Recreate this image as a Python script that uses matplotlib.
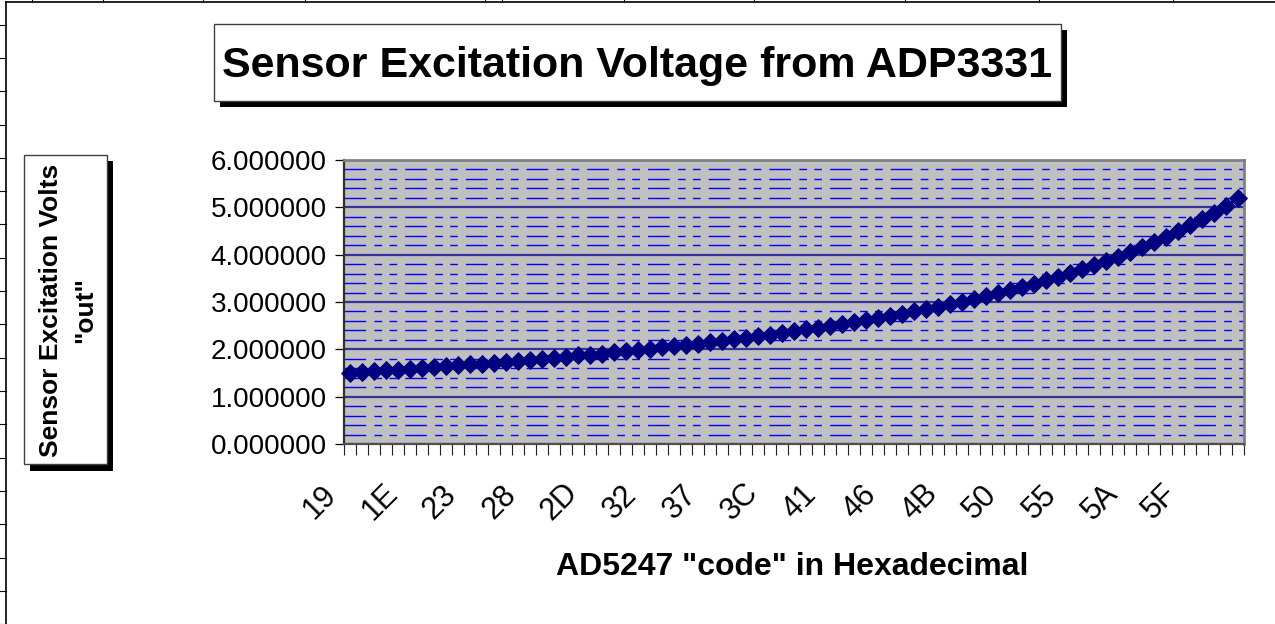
import matplotlib
matplotlib.use("Agg")
import matplotlib.pyplot as plt
from matplotlib.patches import Rectangle
from matplotlib.lines import Line2D
from matplotlib.ticker import MultipleLocator, FixedLocator, NullFormatter
import matplotlib.transforms as mtransforms
import numpy as np

plt.rcParams['font.family'] = ['Liberation Sans', 'DejaVu Sans']

# ---------------- data ----------------
codes = [f"{c:X}" for c in range(0x19, 0x64)]          # AD5247 codes 0x19 .. 0x63
volts = [1.51, 1.53, 1.54, 1.56, 1.57, 1.59, 1.61, 1.63, 1.64, 1.66,
         1.68, 1.70, 1.72, 1.74, 1.76, 1.78, 1.80, 1.82, 1.84, 1.87,
         1.89, 1.91, 1.94, 1.96, 1.99, 2.01, 2.04, 2.07, 2.10, 2.12,
         2.15, 2.18, 2.21, 2.25, 2.28, 2.31, 2.35, 2.38, 2.42, 2.46,
         2.50, 2.54, 2.58, 2.62, 2.66, 2.71, 2.75, 2.80, 2.85, 2.90,
         2.96, 3.01, 3.07, 3.13, 3.19, 3.25, 3.32, 3.39, 3.46, 3.53,
         3.61, 3.69, 3.78, 3.87, 3.96, 4.06, 4.16, 4.26, 4.38, 4.49,
         4.62, 4.75, 4.89, 5.03, 5.19]
label_every = 5
y_ticks = [0, 1, 2, 3, 4, 5, 6]

title = "Sensor Excitation Voltage from ADP3331"
ylabel_lines = ["Sensor Excitation Volts", "\"out\""]
xlabel = "AD5247 \"code\" in Hexadecimal"

W, H = 1275, 624
fig = plt.figure(figsize=(W / 100, H / 100), dpi=100)


def fx(x):
    return x / W


def fy(y):
    return 1 - y / H


# ---------------- worksheet frame ----------------
fig.add_artist(Line2D([fx(6), fx(6)], [fy(2), fy(H)], transform=fig.transFigure, color='black', lw=1.2))
fig.add_artist(Line2D([fx(6), fx(W)], [fy(2), fy(2)], transform=fig.transFigure, color='black', lw=1.2))
for k in range(19):
    yy = 24.7 + k * 33.3
    fig.add_artist(Line2D([fx(0), fx(6)], [fy(yy), fy(yy)], transform=fig.transFigure, color='black', lw=0.8))
for xx in [32, 103, 203, 305, 485, 502, 624, 754, 905, 1039, 1173]:
    fig.add_artist(Line2D([fx(xx), fx(xx)], [fy(0), fy(2)], transform=fig.transFigure, color='black', lw=0.8))

# ---------------- plot area ----------------
L, R, T, B = 344, 1244, 160, 444
ax = fig.add_axes([fx(L), fy(B), fx(R - L), (B - T) / H])
ax.set_facecolor('#C0C0C0')
x = np.arange(len(volts))
ax.plot(x, volts, color='#000080', lw=2, marker='D', markersize=9,
        markerfacecolor='#000080', markeredgecolor='#000080', markeredgewidth=0.6,
        zorder=3, clip_on=False)
ax.set_xlim(-0.5, len(volts) - 0.5)
ax.set_ylim(0, 6)

ax.set_yticks(y_ticks)
ax.set_yticklabels([f"{v:.6f}" for v in y_ticks], fontsize=20)
ax.yaxis.set_minor_locator(MultipleLocator(0.2))
ax.tick_params(axis='y', which='major', length=6.5, width=0.9, color='black', pad=5.8)
ax.tick_params(axis='y', which='minor', length=0)
ax.grid(axis='y', which='major', color='#333399', lw=1.6)
ax.grid(axis='y', which='minor', color='#0000FF', lw=1.0,
        linestyle=(0, (15.6, 6.0, 5.5, 5.3, 5.5, 5.8)))
ax.set_axisbelow(True)

ax.xaxis.set_major_locator(FixedLocator(np.arange(len(volts) + 1) - 0.5))
ax.xaxis.set_major_formatter(NullFormatter())
ax.tick_params(axis='x', which='major', length=8, width=0.8, color='#202020', direction='out')

for side in ['top', 'right']:
    ax.spines[side].set_color('#808080')
    ax.spines[side].set_linewidth(2)
ax.spines['left'].set_color('#303030')
ax.spines['left'].set_linewidth(1.6)
ax.spines['bottom'].set_color('#505050')
ax.spines['bottom'].set_linewidth(1.6)

# category labels (rotated 45 degrees)
off = mtransforms.ScaledTranslation(-30 / 100, -58 / 100, fig.dpi_scale_trans)
trans = mtransforms.blended_transform_factory(ax.transData, ax.transAxes) + off
for i in range(0, len(codes), label_every):
    ax.text(i, 0, codes[i], transform=trans, rotation=45, ha='center', va='center',
            fontsize=22, clip_on=False)

# ---------------- title box ----------------
fig.add_artist(Rectangle((fx(220), fy(107)), fx(1067 - 220), (107 - 30) / H,
                         transform=fig.transFigure, facecolor='black', edgecolor='none'))
fig.add_artist(Rectangle((fx(214), fy(101)), fx(1061 - 214), (101 - 24) / H,
                         transform=fig.transFigure, facecolor='white', edgecolor='#404040', lw=1))
fig.text(fx(637.5), fy(77), title, ha='center', va='baseline', fontsize=31, fontweight='bold')

# ---------------- y-label box ----------------
fig.add_artist(Rectangle((fx(30), fy(471)), fx(113 - 30), (471 - 161) / H,
                         transform=fig.transFigure, facecolor='black', edgecolor='none'))
fig.add_artist(Rectangle((fx(24), fy(464)), fx(107 - 24), (464 - 155) / H,
                         transform=fig.transFigure, facecolor='white', edgecolor='#404040', lw=1))
fig.text(fx(58), fy(310), ylabel_lines[0], rotation=90, rotation_mode='anchor',
         ha='center', va='baseline', fontsize=19, fontweight='bold')
fig.text(fx(92), fy(310), ylabel_lines[1], rotation=90, rotation_mode='anchor',
         ha='center', va='baseline', fontsize=19, fontweight='bold')

# ---------------- x-label ----------------
fig.text(fx(792), fy(575), xlabel, ha='center', va='baseline', fontsize=23, fontweight='bold')

fig.savefig("out.png", dpi=100)
